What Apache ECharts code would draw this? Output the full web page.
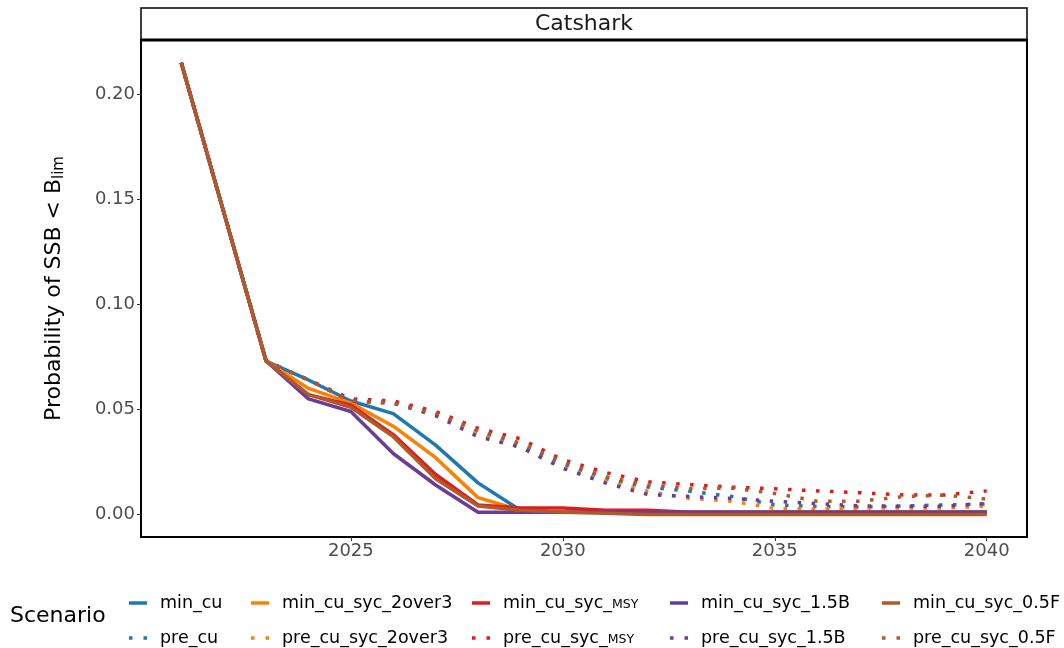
<!DOCTYPE html>
<html>
<head>
<meta charset="utf-8">
<script src="https://cdn.jsdelivr.net/npm/echarts@6/dist/echarts.min.js"></script>
<style>html,body{margin:0;padding:0;background:#fff}#c{width:1064px;height:648px}</style>
</head>
<body>
<div id="c"></div>
<script>
const years = [2021,2022,2023,2024,2025,2026,2027,2028,2029,2030,2031,2032,2033,2034,2035,2036,2037,2038,2039,2040];
const xTicks = [2025, 2030, 2035, 2040];
const yTicks = [0, 0.05, 0.10, 0.15, 0.20];
const scenarioNames = ['min_cu','pre_cu','min_cu_syc_2over3','pre_cu_syc_2over3','min_cu_syc_MSY','pre_cu_syc_MSY','min_cu_syc_1.5B','pre_cu_syc_1.5B','min_cu_syc_0.5F','pre_cu_syc_0.5F'];

const min_cu        = [0.215,0.144,0.073,0.064,0.054,0.048,0.033,0.015,0.002,0.001,0.001,0.001,0.001,0.001,0.001,0.001,0.001,0.001,0.001,0.001];
const pre_cu        = [0.215,0.144,0.073,0.064,0.054,0.053,0.048,0.039,0.033,0.024,0.017,0.013,0.011,0.0085,0.0045,0.0038,0.0035,0.004,0.0045,0.005];
const min_2over3    = [0.215,0.144,0.073,0.060,0.053,0.042,0.027,0.008,0.002,0.001,0.001,0.001,0.001,0.001,0.001,0.001,0.001,0.001,0.001,0.001];
const pre_2over3    = [0.215,0.144,0.073,0.064,0.054,0.053,0.048,0.038,0.032,0.022,0.016,0.011,0.0076,0.0063,0.0028,0.0025,0.003,0.003,0.003,0.004];
const min_MSY       = [0.215,0.144,0.073,0.057,0.052,0.038,0.019,0.0045,0.003,0.003,0.002,0.002,0.001,0.001,0.001,0.001,0.001,0.001,0.001,0.001];
const pre_MSY       = [0.215,0.144,0.073,0.064,0.055,0.054,0.049,0.041,0.036,0.026,0.020,0.0155,0.0142,0.013,0.0122,0.0112,0.0103,0.0093,0.0092,0.0112];
const min_1_5B      = [0.215,0.144,0.073,0.055,0.049,0.029,0.014,0.001,0.001,0.001,0.001,0.001,0.001,0.001,0.001,0.001,0.001,0.001,0.001,0.001];
const pre_1_5B      = [0.215,0.144,0.073,0.064,0.054,0.053,0.047,0.037,0.032,0.022,0.015,0.0095,0.0085,0.0076,0.0062,0.0052,0.0041,0.0039,0.0039,0.0052];
const min_0_5F      = [0.215,0.144,0.073,0.057,0.051,0.037,0.017,0.004,0.002,0.001,0.0005,0,0,0,0,0,0,0,0,0];
const pre_0_5F      = [0.215,0.144,0.073,0.064,0.054,0.053,0.048,0.040,0.034,0.025,0.018,0.014,0.0123,0.0125,0.010,0.0063,0.0063,0.0084,0.0092,0.0073];

const seriesValues = [min_cu, pre_cu, min_2over3, pre_2over3, min_MSY, pre_MSY, min_1_5B, pre_1_5B, min_0_5F, pre_0_5F];
const colors = ['#1f78b4','#1f78b4','#ff7f00','#ff7f00','#e31a1c','#e31a1c','#6a3d9a','#6a3d9a','#b15928','#b15928'];

const series = scenarioNames.map((n, i) => {
  const dotted = n.startsWith('pre');
  return {
    name: n, type: 'line', symbol: 'none', animation: false,
    data: years.map((y, j) => [y, seriesValues[i][j]]),
    lineStyle: dotted ? {color: colors[i], width: 3.5, type: [3.5, 10.5], cap: 'butt'} : {color: colors[i], width: 3.5},
    itemStyle: {color: colors[i]},
    z: 2 + i
  };
});

const legendIconX = [129, 251, 472, 670, 882];
const legendRowY = [600, 635];
const legends = [];
scenarioNames.forEach((n, i) => {
  const col = Math.floor(i / 2), row = i % 2;
  const dotted = row === 1;
  legends.push({
    orient: 'horizontal', left: legendIconX[col] - 5, top: legendRowY[row] - 11, height: 22,
    itemWidth: 18, itemHeight: 3.5,
    icon: dotted ? 'path://M0,0h3.5v3.5h-3.5zM14.5,0h3.5v3.5h-3.5z' : 'path://M0,0h18v3.5h-18z',
    data: [n],
    selectedMode: false,
    formatter: function (nm) {
      if (nm.endsWith('_MSY')) return '{n|' + nm.slice(0, -3) + '}{s|MSY}';
      return '{n|' + nm + '}';
    },
    textStyle: {
      padding: [0, 0, 0, 8],
      rich: {
        n: {fontFamily: 'DejaVu Sans', fontSize: 17.5, color: '#000'},
        s: {fontFamily: 'DejaVu Sans', fontSize: 12.5, color: '#000', padding: [4,0,0,0]}
      }
    }
  });
});

const chart = echarts.init(document.getElementById('c'), null, {renderer: 'canvas'});
chart.setOption({
  backgroundColor: '#fff',
  animation: false,
  grid: {left: 141, right: 37, top: 40, bottom: 111, show: true, borderColor: '#000', borderWidth: 2, backgroundColor: 'transparent'},
  xAxis: {
    type: 'value', min: 2020.05, max: 2040.95,
    splitLine: {show: false},
    axisLine: {show: false, onZero: false},
    axisTick: {show: true, length: 4, lineStyle: {color: '#333', width: 1}, customValues: xTicks},
    axisLabel: {customValues: xTicks, fontFamily: 'DejaVu Sans', fontSize: 18, color: '#4d4d4d', margin: 5,
      formatter: v => String(v)}
  },
  yAxis: {
    type: 'value', min: -0.01075, max: 0.2258,
    splitLine: {show: false},
    axisLine: {show: false, onZero: false},
    axisTick: {show: true, length: 4, lineStyle: {color: '#333', width: 1}, customValues: yTicks},
    axisLabel: {customValues: yTicks, fontFamily: 'DejaVu Sans', fontSize: 18, color: '#4d4d4d', margin: 6,
      formatter: v => v.toFixed(2)},
    name: '{a|Probability of SSB < B}{b|lim}',
    nameLocation: 'middle', nameRotate: 90, nameGap: 74,
    nameTextStyle: {rich: {
      a: {fontFamily: 'DejaVu Sans', fontSize: 22, color: '#000'},
      b: {fontFamily: 'DejaVu Sans', fontSize: 15, color: '#000', padding: [11,0,0,0]}
    }}
  },
  legend: legends,
  graphic: [
    {type: 'rect', shape: {x: 141, y: 8, width: 886, height: 32}, style: {fill: '#fff', stroke: '#000', lineWidth: 1.5}, z: 100},
    {type: 'line', shape: {x1: 141, y1: 40, x2: 1027, y2: 40}, style: {stroke: '#000', lineWidth: 3}, z: 101},
    {type: 'text', x: 584, y: 24, style: {text: 'Catshark', font: '22px "DejaVu Sans"', fill: '#1a1a1a', textAlign: 'center', textVerticalAlign: 'middle'}, z: 101},
    {type: 'text', x: 10, y: 616, style: {text: 'Scenario', font: '22px "DejaVu Sans"', fill: '#000', textAlign: 'left', textVerticalAlign: 'middle'}, z: 101}
  ],
  series: series
});
</script>
</body>
</html>
